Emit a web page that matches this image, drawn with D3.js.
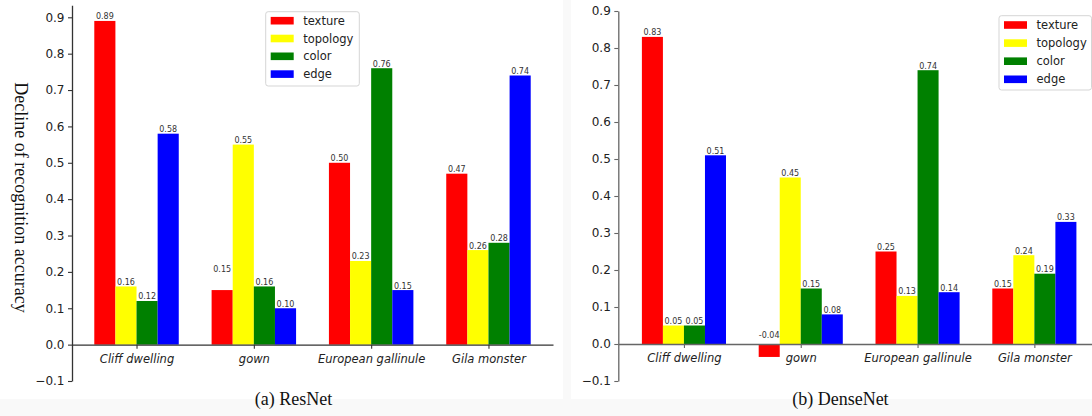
<!DOCTYPE html>
<html>
<head>
<meta charset="utf-8">
<script src="https://cdn.jsdelivr.net/npm/d3@7"></script>
<style>
  html, body { margin: 0; padding: 0; background: #f9f9f9; }
  svg { display: block; }
</style>
</head>
<body>
<svg id="chart" width="1092" height="416"></svg>
<script>
// ---------- data ----------
const categories = ["Cliff dwelling", "gown", "European gallinule", "Gila monster"];
const seriesNames = ["texture", "topology", "color", "edge"];
const seriesColors = ["#ff0000", "#ffff00", "#008000", "#0000ff"];
const yTickValues = [-0.1, 0.0, 0.1, 0.2, 0.3, 0.4, 0.5, 0.6, 0.7, 0.8, 0.9];

// ResNet
const resnetTexture  = [0.89, 0.15, 0.50, 0.47];
const resnetTopology = [0.16, 0.55, 0.23, 0.26];
const resnetColor    = [0.12, 0.16, 0.76, 0.28];
const resnetEdge     = [0.58, 0.10, 0.15, 0.74];

// DenseNet
const densenetTexture  = [0.83, -0.035, 0.25, 0.15];
const densenetTopology = [0.05, 0.45, 0.13, 0.24];
const densenetColor    = [0.05, 0.15, 0.74, 0.19];
const densenetEdge     = [0.51, 0.08, 0.14, 0.33];

const captions = ["(a) ResNet", "(b) DenseNet"];
const yAxisTitle = "Decline of recognition accuracy";

// ---------- drawing ----------
const svg = d3.select("#chart");
const fmt = v => d3.format(".2f")(v).replace("\u2212", "-");

// panel backgrounds (the two pasted figures)
svg.append("rect").attr("x", 0).attr("y", 0).attr("width", 563).attr("height", 399).attr("fill", "#ffffff");
svg.append("rect").attr("x", 571).attr("y", 0).attr("width", 521).attr("height", 399).attr("fill", "#ffffff");

const panels = [
  {
    name: "resnet",
    series: [resnetTexture, resnetTopology, resnetColor, resnetEdge],
    xRange: [72, 553], xPad: 0.55,
    yTop: 17.3, yBottom: 381, spineTop: 0.933,
    spineColor: "#333",
    legend: { x: 265.7, y: 11.7, w: 93.6, h: 74.3, rowStart: 20.7, rowStep: 17.8 },
    caption: { x: 293.5, y: 405 },
    nudge: { "1-0": 0.05 },
    showTitle: true
  },
  {
    name: "densenet",
    series: [densenetTexture, densenetTopology, densenetColor, densenetEdge],
    xRange: [618.3, 1100], xPad: 0.562,
    yTop: 11, yBottom: 381, spineTop: 0.9,
    spineColor: "#666",
    legend: { x: 999, y: 15.7, w: 92.5, h: 74.3, rowStart: 25, rowStep: 18.1 },
    caption: { x: 840.4, y: 405 },
    nudge: { "1-0": 0.05 },
    showTitle: false
  }
];

panels.forEach((p, pi) => {
  const g = svg.append("g").attr("class", p.name);

  const y = d3.scaleLinear().domain([-0.1, 0.9]).range([p.yBottom, p.yTop]);
  const x = d3.scalePoint().domain(categories).range(p.xRange).padding(p.xPad);
  const bw = x.step() * 0.18;
  const inner = d3.scaleBand().domain(seriesNames).range([-2 * bw, 2 * bw]).padding(0);

  // bars
  p.series.forEach((vals, si) => {
    g.append("g").selectAll("rect")
      .data(vals.map((v, ci) => ({ v, ci })))
      .join("rect")
      .attr("x", d => x(categories[d.ci]) + inner(seriesNames[si]))
      .attr("width", inner.bandwidth())
      .attr("y", d => y(Math.max(d.v, 0)))
      .attr("height", d => Math.abs(y(d.v) - y(0)))
      .attr("fill", seriesColors[si]);
  });

  // value labels
  p.series.forEach((vals, si) => {
    g.append("g").selectAll("text")
      .data(vals.map((v, ci) => ({ v, ci })))
      .join("text")
      .attr("x", d => x(categories[d.ci]) + inner(seriesNames[si]) + inner.bandwidth() / 2)
      .attr("y", d => {
        const n = p.nudge[d.ci + "-" + si];
        return n !== undefined ? y(d.v + n) : y(Math.max(d.v, 0)) - 1.5;
      })
      .attr("text-anchor", "middle")
      .attr("font-family", "DejaVu Sans, sans-serif")
      .attr("font-size", 8)
      .attr("fill", "#333")
      .text(d => fmt(d.v));
  });

  // y axis
  const yAxisScale = d3.scaleLinear().domain([-0.1, p.spineTop]).range([p.yBottom, y(p.spineTop)]);
  const yAx = g.append("g")
    .attr("transform", `translate(${p.xRange[0]},0)`)
    .call(d3.axisLeft(yAxisScale).tickValues(yTickValues).tickFormat(d3.format(".1f"))
      .tickSize(4).tickSizeOuter(0).tickPadding(3.5));
  yAx.select(".domain").attr("stroke", p.spineColor).attr("stroke-width", 1.3);
  yAx.selectAll(".tick line").attr("stroke", p.spineColor).attr("stroke-width", 1.1);
  yAx.selectAll(".tick text")
    .attr("font-family", "DejaVu Sans, sans-serif").attr("font-size", 12).attr("fill", "#222");

  // x axis at zero
  const xAx = g.append("g")
    .attr("transform", `translate(0,${y(0)})`)
    .call(d3.axisBottom(x).tickSize(4).tickSizeOuter(0).tickPadding(6));
  xAx.select(".domain").attr("stroke", p.spineColor).attr("stroke-width", 1.3);
  xAx.selectAll(".tick line").attr("stroke", p.spineColor).attr("stroke-width", 1.1);
  xAx.selectAll(".tick text")
    .attr("font-family", "DejaVu Sans, sans-serif").attr("font-size", 11.5)
    .attr("font-style", "italic").attr("fill", "#222");

  // legend
  const L = p.legend;
  const lg = g.append("g");
  lg.append("rect")
    .attr("x", L.x).attr("y", L.y).attr("width", L.w).attr("height", L.h)
    .attr("rx", 2.5).attr("fill", "#fff").attr("fill-opacity", 0.85)
    .attr("stroke", "#d5d5d5").attr("stroke-width", 1);
  seriesNames.forEach((s, i) => {
    const cy = L.rowStart + i * L.rowStep;
    lg.append("rect")
      .attr("x", L.x + 5).attr("y", cy - 3.8).attr("width", 23).attr("height", 7.6)
      .attr("fill", seriesColors[i]);
    lg.append("text")
      .attr("x", L.x + 37.5).attr("y", cy).attr("dy", "0.35em")
      .attr("font-family", "DejaVu Sans, sans-serif").attr("font-size", 11.5)
      .attr("fill", "#222").text(s);
  });

  // caption
  g.append("text")
    .attr("x", p.caption.x).attr("y", p.caption.y)
    .attr("text-anchor", "middle")
    .attr("font-family", "Liberation Serif, Times New Roman, serif")
    .attr("font-size", 18).attr("fill", "#111")
    .text(captions[pi]);

  if (p.showTitle) {
    g.append("text")
      .attr("transform", `translate(14.5,${(81.7 + 313.3) / 2}) rotate(90)`)
      .attr("text-anchor", "middle")
      .attr("font-family", "Liberation Serif, Times New Roman, serif")
      .attr("font-size", 18).attr("fill", "#111")
      .text(yAxisTitle);
  }
});
</script>
</body>
</html>
